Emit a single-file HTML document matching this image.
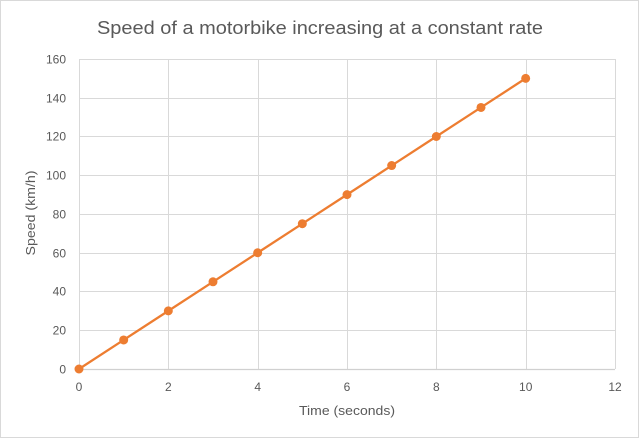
<!DOCTYPE html>
<html><head><meta charset="utf-8"><style>
html,body{margin:0;padding:0;background:#fff;}
svg{display:block;}
text{font-family:"Liberation Sans",sans-serif;fill:#595959;}
</style></head><body>
<svg width="640" height="439" viewBox="0 0 640 439" xmlns="http://www.w3.org/2000/svg">
<rect x="0.5" y="0.5" width="638" height="437" fill="#fff" stroke="#d9d9d9" stroke-width="1"/>
<text x="320" y="34" font-size="18" text-anchor="middle" textLength="446" lengthAdjust="spacingAndGlyphs">Speed of a motorbike increasing at a constant rate</text>
<g stroke="#d9d9d9" stroke-width="1">
<line x1="79" y1="59.5" x2="615" y2="59.5"/>
<line x1="79" y1="98.5" x2="615" y2="98.5"/>
<line x1="79" y1="136.5" x2="615" y2="136.5"/>
<line x1="79" y1="175.5" x2="615" y2="175.5"/>
<line x1="79" y1="214.5" x2="615" y2="214.5"/>
<line x1="79" y1="253.5" x2="615" y2="253.5"/>
<line x1="79" y1="291.5" x2="615" y2="291.5"/>
<line x1="79" y1="330.5" x2="615" y2="330.5"/>
<line x1="79.5" y1="59" x2="79.5" y2="369"/>
<line x1="168.5" y1="59" x2="168.5" y2="369"/>
<line x1="258.5" y1="59" x2="258.5" y2="369"/>
<line x1="347.5" y1="59" x2="347.5" y2="369"/>
<line x1="436.5" y1="59" x2="436.5" y2="369"/>
<line x1="526.5" y1="59" x2="526.5" y2="369"/>
<line x1="615.5" y1="59" x2="615.5" y2="369"/>
</g>
<line x1="79" y1="369.5" x2="615" y2="369.5" stroke="#d0d0d0" stroke-width="1.2"/>
<g font-size="12" text-anchor="end">
<text x="66" y="63.5">160</text>
<text x="66" y="102.5">140</text>
<text x="66" y="140.5">120</text>
<text x="66" y="179.5">100</text>
<text x="66" y="218.5">80</text>
<text x="66" y="257.5">60</text>
<text x="66" y="295.5">40</text>
<text x="66" y="334.5">20</text>
<text x="66" y="373.5">0</text>
</g>
<g font-size="12" text-anchor="middle">
<text x="79" y="391">0</text>
<text x="168.3" y="391">2</text>
<text x="257.7" y="391">4</text>
<text x="347" y="391">6</text>
<text x="436.3" y="391">8</text>
<text x="525.7" y="391">10</text>
<text x="615" y="391">12</text>
</g>
<text x="347" y="415" font-size="13" text-anchor="middle" textLength="96" lengthAdjust="spacingAndGlyphs">Time (seconds)</text>
<text x="0" y="0" font-size="13" text-anchor="middle" transform="translate(35,213) rotate(-90)" textLength="85" lengthAdjust="spacingAndGlyphs">Speed (km/h)</text>
<polyline fill="none" stroke="#ED7D31" stroke-width="2.25" stroke-linejoin="round"
points="79,369 123.67,339.94 168.33,310.88 213,281.81 257.67,252.75 302.33,223.69 347,194.63 391.67,165.56 436.33,136.5 481,107.44 525.67,78.38"/>
<g fill="#ED7D31">
<circle cx="79" cy="369" r="4.5"/>
<circle cx="123.67" cy="339.94" r="4.5"/>
<circle cx="168.33" cy="310.88" r="4.5"/>
<circle cx="213" cy="281.81" r="4.5"/>
<circle cx="257.67" cy="252.75" r="4.5"/>
<circle cx="302.33" cy="223.69" r="4.5"/>
<circle cx="347" cy="194.63" r="4.5"/>
<circle cx="391.67" cy="165.56" r="4.5"/>
<circle cx="436.33" cy="136.5" r="4.5"/>
<circle cx="481" cy="107.44" r="4.5"/>
<circle cx="525.67" cy="78.38" r="4.5"/>
</g>
</svg>
</body></html>
